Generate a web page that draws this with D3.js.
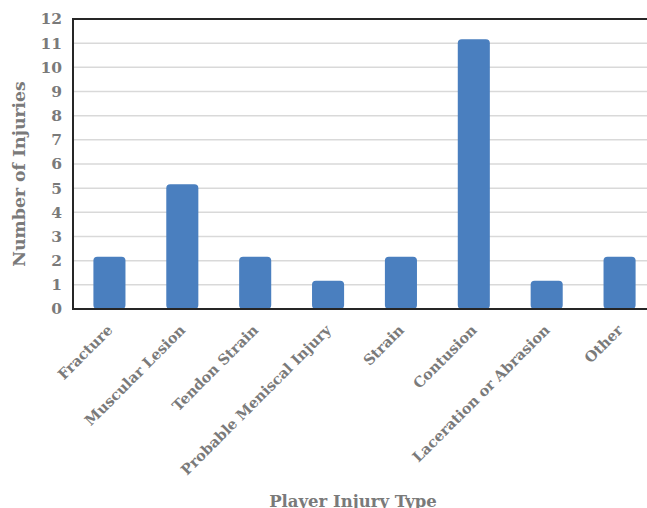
<!DOCTYPE html>
<html>
<head>
<meta charset="utf-8">
<script src="https://cdn.jsdelivr.net/npm/d3@7"></script>
<style>
  body { margin: 0; background: #fff; overflow: hidden; }
  text { font-family: "DejaVu Serif", serif; font-weight: bold; fill: #7a7a7a; }
</style>
</head>
<body>
<div id="main"></div>
<script>
const Width = 647, Height = 508;

// data
const injuryTypes = ["Fracture", "Muscular Lesion", "Tendon Strain", "Probable Meniscal Injury",
    "Strain", "Contusion", "Laceration or Abrasion", "Other"];
const injuryCounts = [2, 5, 2, 1, 2, 11, 1, 2];
const yTicks = d3.range(0, 13);

const margin = {left: 73, top: 19, right: -9, bottom: 199};

const svg = d3.select("#main")
    .append("svg")
    .attr("width", Width)
    .attr("height", Height)
;

let Xscale = d3.scaleBand().domain(injuryTypes)
    .range([margin.left, Width - margin.right]).paddingInner(0.56).paddingOuter(0.28);
let Yscale = d3.scaleLinear().domain([0, 12]).range([Height - margin.bottom, margin.top]);

// gridlines
svg.append("g")
    .selectAll("line").data(yTicks.slice(1, -1)).enter().append("line")
    .attr("x1", margin.left).attr("x2", Width - margin.right)
    .attr("y1", d => Yscale(d)).attr("y2", d => Yscale(d))
    .attr("stroke", "#d9d9d9").attr("stroke-width", 1.5);

// bars (rounded tops stick out a little above the value, like the original)
svg.append("g")
    .selectAll("rect").data(injuryCounts).enter().append("rect")
    .attr("x", (d, i) => Xscale(injuryTypes[i]))
    .attr("width", Xscale.bandwidth())
    .attr("y", d => Yscale(d) - 4)
    .attr("height", d => Yscale(0) - Yscale(d) + 4)
    .attr("rx", 4)
    .attr("fill", "#4a7fbf");

// frame
svg.append("path")
    .attr("d", `M${Width - margin.right},${Yscale(12)}H${margin.left}V${Yscale(0)}H${Width - margin.right}`)
    .attr("fill", "none").attr("stroke", "#262626").attr("stroke-width", 2);

// y axis
const yAxis = svg.append("g")
    .attr("transform", `translate(${margin.left},0)`)
    .call(d3.axisLeft(Yscale).tickValues(yTicks).tickSize(0).tickPadding(11));
yAxis.select(".domain").remove();
yAxis.selectAll("text").style("font-size", "15.5px").attr("fill", "#7a7a7a");

// x axis labels
const xAxis = svg.append("g")
    .attr("transform", `translate(0,${Yscale(0)})`)
    .call(d3.axisBottom(Xscale).tickSize(0));
xAxis.select(".domain").remove();
xAxis.selectAll("text")
    .attr("fill", "#7a7a7a")
    .style("font-size", "14.5px")
    .attr("text-anchor", "end")
    .attr("dy", null).attr("y", null)
    .attr("transform", "translate(4,22) rotate(-45)");

// titles
svg.append("text")
    .attr("transform", `translate(25,${(Yscale(0) + Yscale(12)) / 2 + 10}) rotate(-90)`)
    .attr("text-anchor", "middle")
    .style("font-size", "17.3px")
    .text("Number of Injuries");

svg.append("text")
    .attr("x", 353).attr("y", 507)
    .attr("text-anchor", "middle")
    .style("font-size", "16.5px")
    .text("Player Injury Type");
</script>
</body>
</html>
